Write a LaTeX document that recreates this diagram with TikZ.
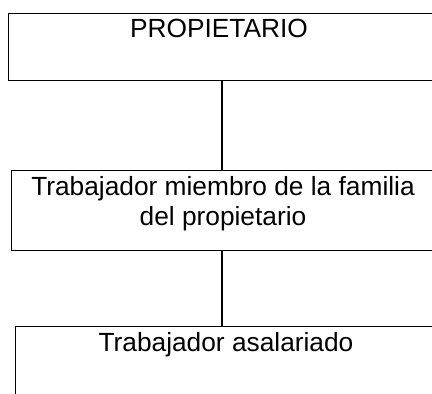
\documentclass[tikz,border=0pt]{standalone}
\usepackage{fontspec}
\setmainfont{Liberation Sans}
\usetikzlibrary{positioning}

\begin{document}
\begin{tikzpicture}[x=1pt, y=1pt,
		caja/.style={draw, line width=1.4pt, inner sep=0pt, anchor=north west},
		texto/.style={font=\fontsize{26.3}{30}\selectfont, inner sep=0pt, align=center, anchor=base}]
	\useasboundingbox (0,0) rectangle (432,-394);
	\clip (0,0) rectangle (432,-394);
	% cajas
	\node[caja, minimum width=428pt, minimum height=67pt] (prop) at (8,-12.5) {};
	\node[caja, minimum width=426pt, minimum height=80pt] (fam) at (11,-170) {};
	\node[caja, minimum width=424pt, minimum height=80pt] (asal) at (15,-326) {};
	% textos
	\node[texto] (propt) at (219,-37.7) {PROPIETARIO};
	\node[texto] (famt) at (223,-225) {Trabajador miembro de la familia\\del propietario};
	\node[texto] (asalt) at (226,-351.5) {Trabajador asalariado};
	% lineas
	\draw[line width=1.4pt] (222,0 |- prop.south) -- (222,0 |- fam.north);
	\draw[line width=1.4pt] (222,0 |- fam.south) -- (222,0 |- asal.north);
\end{tikzpicture}
\end{document}
